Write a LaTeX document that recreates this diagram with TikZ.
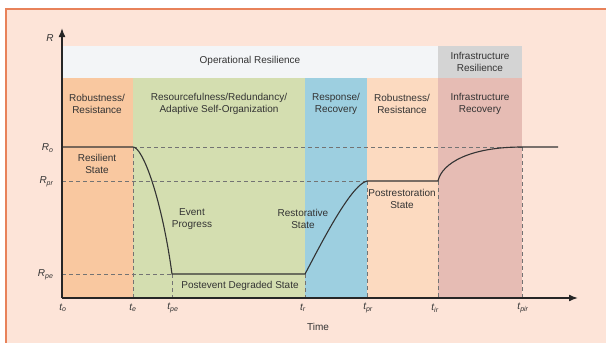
\documentclass[tikz,border=0pt]{standalone}
\usepackage{fontspec}
\setmainfont{Liberation Sans}
\usetikzlibrary{arrows.meta}
\definecolor{framefill}{RGB}{253,228,216}
\definecolor{frameline}{RGB}{232,130,90}
\definecolor{bandwhite}{RGB}{243,245,247}
\definecolor{bandgray}{RGB}{212,212,212}
\definecolor{robustA}{RGB}{249,200,160}
\definecolor{resource}{RGB}{212,222,176}
\definecolor{response}{RGB}{157,207,224}
\definecolor{robustB}{RGB}{252,218,192}
\definecolor{infra}{RGB}{230,188,180}
\tikzset{
  lbl/.style={font=\fontsize{10}{12.5}\selectfont,align=center,text=black!80},
  axlbl/.style={font=\fontsize{10}{12}\selectfont\itshape,text=black!80},
  guide/.style={black!55,thin,dash pattern=on 4pt off 3pt},
  curve/.style={black!80,line width=1.1pt},
  axis/.style={black!85,line width=1.6pt,-{Latex[length=9pt,width=7pt]}}
}

\begin{document}
\begin{tikzpicture}[x=1pt,y=-1pt]
\useasboundingbox (0,0) rectangle (606,343);
\fill[white] (0,0) rectangle (606,343);
\fill[framefill] (6,9) rectangle (606,343);
\draw[frameline,line width=1.2pt] (6,343) -- (6,9) -- (606,9);

% bands and phases
\fill[bandwhite] (62,46) rectangle (438,78);
\fill[bandgray] (438,46) rectangle (522,78);
\fill[robustA] (62,78) rectangle (133,298);
\fill[resource] (133,78) rectangle (305,298);
\fill[response] (305,78) rectangle (367,298);
\fill[robustB] (367,78) rectangle (438,298);
\fill[infra] (438,78) rectangle (522,298);

\node[lbl] (opres) at (250,61) {Operational Resilience};
\node[lbl] (infres) at (480,62) {Infrastructure\\Resilience};
\node[lbl] (robA) at (97,104) {Robustness/\\Resistance};
\node[lbl] (resrc) at (219,104) {Resourcefulness/Redundancy/\\Adaptive Self-Organization};
\node[lbl] (resp) at (336,104) {Response/\\Recovery};
\node[lbl] (robB) at (402,104) {Robustness/\\Resistance};
\node[lbl] (infrec) at (480,104) {Infrastructure\\Recovery};

% guide lines
\draw[guide] (133,147) -- (522,147);
\draw[guide] (62,181) -- (367,181);
\draw[guide] (62,274) -- (172,274);
\draw[guide] (133,147) -- (133,298);
\draw[guide] (172,274) -- (172,298);
\draw[guide] (305,274) -- (305,298);
\draw[guide] (367,181) -- (367,298);
\draw[guide] (438,181) -- (438,298);
\draw[guide] (522,147) -- (522,298);

% resilience curve
\draw[curve] (62,147) -- (133,147) .. controls (143,147) and (162,200) .. (172,274)
  -- (305,274) .. controls (318,250) and (350,185) .. (367,181)
  -- (438,181) .. controls (442,163) and (470,147) .. (522,147) -- (558,147);

\node[lbl] (resil) at (97,164) {Resilient\\State};
\node[lbl] (event) at (192,219) {Event\\Progress};
\node[lbl] (restor) at (303,219) {Restorative\\State};
\node[lbl] (postres) at (402,199) {Postrestoration\\State};
\node[lbl] (postev) at (240,286) {Postevent Degraded State};

% axes
\draw[axis] (62,298) -- (62,28);
\draw[axis] (62,298) -- (578,298);

\node[axlbl] (rlab) at (50,38) {R};
\node[axlbl,anchor=east] (ro) at (57,148) {R\textsubscript{o}};
\node[axlbl,anchor=east] (rpr) at (57,182) {R\textsubscript{pr}};
\node[axlbl,anchor=east] (rpe) at (57,275) {R\textsubscript{pe}};

\node[axlbl] (to) at (63,308) {t\textsubscript{o}};
\node[axlbl] (te) at (133,308) {t\textsubscript{e}};
\node[axlbl] (tpe) at (173,308) {t\textsubscript{pe}};
\node[axlbl] (tr) at (303,308) {t\textsubscript{r}};
\node[axlbl] (tpr) at (368,308) {t\textsubscript{pr}};
\node[axlbl] (tir) at (435,308) {t\textsubscript{ir}};
\node[axlbl] (tpir) at (523,308) {t\textsubscript{pir}};
\node[lbl] (time) at (318,327) {Time};
\end{tikzpicture}
\end{document}
